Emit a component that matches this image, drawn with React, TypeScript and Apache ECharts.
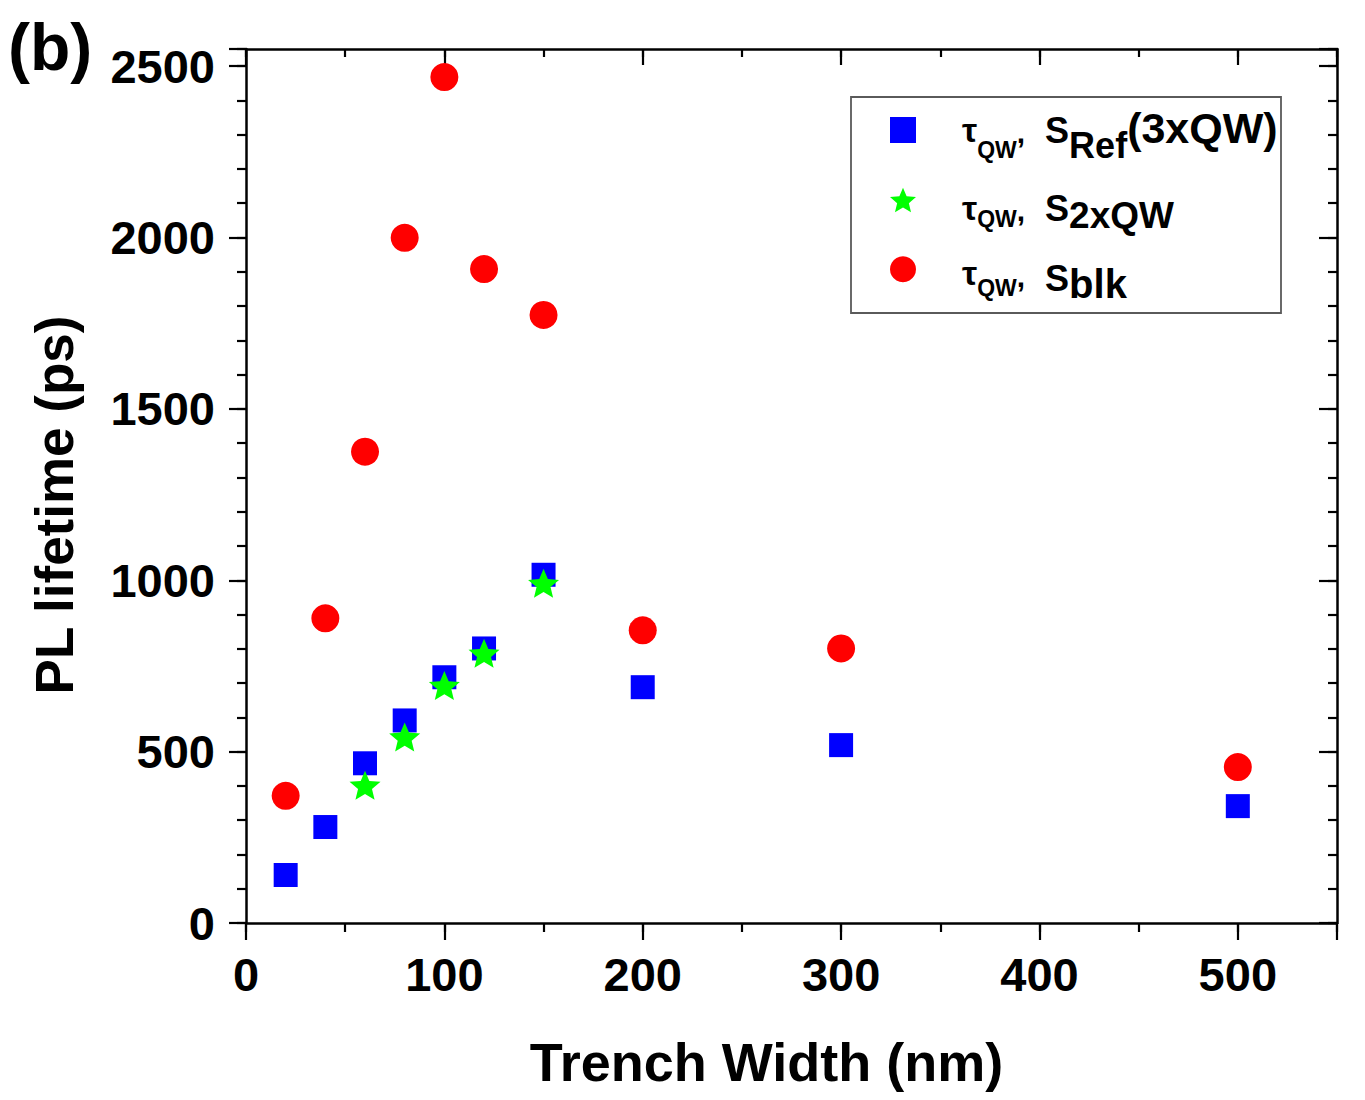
import React, { useEffect, useRef } from 'react';
import * as echarts from 'echarts';

const FONT = '"Liberation Sans", Arial, Helvetica, sans-serif';

// Data
const trenchWidths = [20, 40, 60, 80, 100, 120, 150, 200, 300, 500];
const refLifetimes = [140, 280, 466, 591, 717, 801, 1016, 688, 519, 341];
const twoQWWidths = [60, 80, 100, 120, 150];
const twoQWLifetimes = [402, 543, 693, 787, 991];
const blkLifetimes = [371, 889, 1375, 1999, 2468, 1908, 1774, 854, 801, 455];

const xTickLabels = [0, 100, 200, 300, 400, 500];
const yTickLabels = [0, 500, 1000, 1500, 2000, 2500];

const seriesNames = ['τQW, SRef(3xQW)', 'τQW, S2xQW', 'τQW, Sblk'];

const STAR =
  'path://M50 0 L63.23 31.8 L97.55 34.55 L71.4 56.95 L79.39 90.45 L50 72.5 L20.61 90.45 L28.6 56.95 L2.45 34.55 L36.77 31.8 Z';

const tok = (fs: number, pb: number, pr = 0) => ({
  fontSize: fs,
  lineHeight: fs,
  fontWeight: 'bold',
  fontFamily: FONT,
  color: '#000',
  verticalAlign: 'bottom',
  padding: [0, pr, pb, 0],
});

const legendRich: Record<string, any> = {
  a1: tok(34, 16),
  b1: tok(23, 2),
  c1: tok(30, 16, 20),
  d1: tok(36, 15),
  e1: tok(36, 0),
  f1: tok(43, 14),
  a2: tok(34, 9),
  b2: tok(23, 4),
  c2: tok(30, 9, 20),
  d2: tok(36, 8),
  e2: tok(37, 0),
  a3: tok(34, 14),
  b3: tok(23, 5),
  c3: tok(30, 13, 20),
  d3: tok(36, 8),
  e3: tok(40, 0),
};

const legendLabels = [
  '{a1|τ}{b1|QW}{c1|,}{d1|S}{e1|Ref}{f1|(3xQW)}',
  '{a2|τ}{b2|QW}{c2|,}{d2|S}{e2|2xQW}',
  '{a3|τ}{b3|QW}{c3|,}{d3|S}{e3|blk}',
];
const legendLabelBottoms = [163, 234, 304];

const AXIS_W = 2.5;

const labelStyle = {
  fontSize: 47,
  fontWeight: 'bold',
  fontFamily: FONT,
  color: '#000',
};

function valueAxis(opts: any) {
  const { min, max, interval, position, line, tickLen, inside, labels, tickList, margin, extra } = opts;
  return {
    type: 'value',
    position,
    min,
    max,
    interval,
    axisLine: { show: line, onZero: false, lineStyle: { color: '#000', width: AXIS_W } },
    axisTick: { show: true, inside, length: tickLen, lineStyle: { color: '#000', width: 2.2 } },
    axisLabel: labels
      ? {
          show: true,
          margin,
          ...labelStyle,
          formatter: (v: number) => (tickList.indexOf(v) >= 0 ? String(v) : ''),
        }
      : { show: false },
    splitLine: { show: false },
    minorTick: { show: false },
    ...(extra || {}),
  };
}

export default function App() {
  const ref = useRef<HTMLDivElement>(null);

  useEffect(() => {
    if (!ref.current) return;
    const chart = echarts.init(ref.current, undefined, { renderer: 'svg' });

    const option: any = {
      animation: false,
      backgroundColor: '#fff',
      grid: { left: 246, right: 28, top: 49, bottom: 177, containLabel: false },
      xAxis: [
        valueAxis({
          min: 0, max: 550, interval: 100, position: 'bottom', line: true, tickLen: 17, inside: false,
          labels: true, tickList: xTickLabels, margin: 28,
          extra: {
            name: 'Trench Width (nm)',
            nameLocation: 'middle',
            nameGap: 112,
            nameTextStyle: { fontSize: 54, fontWeight: 'bold', fontFamily: FONT, color: '#000', padding: [0, 50, 0, 0] },
          },
        }),
        valueAxis({ min: 0, max: 550, interval: 50, position: 'bottom', line: false, tickLen: 9, inside: false, labels: false }),
        valueAxis({ min: 0, max: 550, interval: 100, position: 'top', line: true, tickLen: 16, inside: true, labels: false }),
        valueAxis({ min: 0, max: 550, interval: 50, position: 'top', line: false, tickLen: 8, inside: true, labels: false }),
      ],
      yAxis: [
        valueAxis({
          min: 0, max: 2550, interval: 500, position: 'left', line: true, tickLen: 17, inside: false,
          labels: true, tickList: yTickLabels, margin: 31,
          extra: {
            name: 'PL lifetime (ps)',
            nameLocation: 'middle',
            nameGap: 165,
            nameTextStyle: { fontSize: 53, fontWeight: 'bold', fontFamily: FONT, color: '#000', padding: [0, 38, 0, 0] },
          },
        }),
        valueAxis({ min: 0, max: 2550, interval: 100, position: 'left', line: false, tickLen: 9, inside: false, labels: false }),
        valueAxis({ min: 0, max: 2550, interval: 500, position: 'right', line: true, tickLen: 18, inside: true, labels: false }),
        valueAxis({ min: 0, max: 2550, interval: 100, position: 'right', line: false, tickLen: 9, inside: true, labels: false }),
      ],
      legend: {
        orient: 'vertical',
        left: 890,
        top: 117,
        padding: 0,
        itemWidth: 26,
        itemHeight: 26,
        itemGap: 44,
        selectedMode: false,
        z: 10,
        data: seriesNames,
        formatter: () => '',
      },
      graphic: [
        {
          type: 'rect',
          z: 1,
          shape: { x: 851, y: 97, width: 430, height: 216 },
          style: { fill: '#fff', stroke: '#5a5a5a', lineWidth: 1.8 },
        },
        ...legendLabels.map((txt, i) => ({
          type: 'text',
          z: 12,
          x: 962,
          y: legendLabelBottoms[i],
          style: {
            text: txt,
            rich: legendRich,
            align: 'left',
            verticalAlign: 'bottom',
            fill: '#000',
          },
        })),
        {
          type: 'text',
          left: 8,
          top: 14,
          z: 1,
          style: { text: '(b)', font: `bold 66px ${FONT}`, fill: '#000' },
        },
      ],
      series: [
        {
          name: seriesNames[0],
          type: 'scatter',
          xAxisIndex: 0,
          yAxisIndex: 0,
          symbol: 'rect',
          symbolSize: 24,
          itemStyle: { color: '#0000ff', opacity: 1 },
          data: trenchWidths.map((x, i) => [x, refLifetimes[i]]),
        },
        {
          name: seriesNames[1],
          type: 'scatter',
          xAxisIndex: 0,
          yAxisIndex: 0,
          symbol: STAR,
          symbolSize: [31, 29],
          itemStyle: { color: '#00ff00', opacity: 1 },
          data: twoQWWidths.map((x, i) => [x, twoQWLifetimes[i]]),
        },
        {
          name: seriesNames[2],
          type: 'scatter',
          xAxisIndex: 0,
          yAxisIndex: 0,
          symbol: 'circle',
          symbolSize: 28,
          itemStyle: { color: '#ff0000', opacity: 1 },
          data: trenchWidths.map((x, i) => [x, blkLifetimes[i]]),
        },
      ],
    };

    chart.setOption(option);
    return () => chart.dispose();
  }, []);

  return (
    <div
      ref={ref}
      style={{ position: 'absolute', left: 0, top: 0, width: 1365, height: 1100, background: '#fff' }}
    />
  );
}
